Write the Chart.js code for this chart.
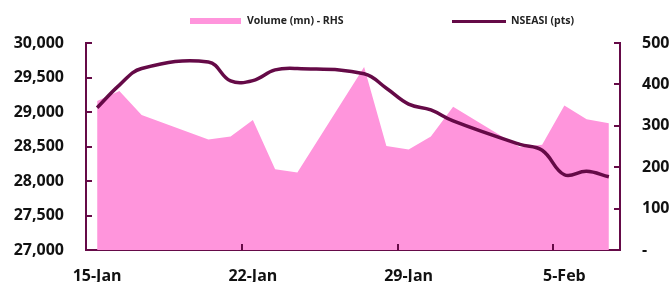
<!DOCTYPE html>
<html>
<head>
<meta charset="utf-8">
<script src="https://cdn.jsdelivr.net/npm/chart.js"></script>
<style>
  html, body { margin: 0; padding: 0; background: #fff; }
  #wrap { position: relative; width: 671px; height: 282px; }
  #legend { position: absolute; top: 12px; left: 0; width: 671px; height: 16px;
    font: bold 10.5px "Open Sans", sans-serif; color: #222; }
  .item { position: absolute; top: 0; line-height: 16px; white-space: nowrap; }
  .sw { position: absolute; }
</style>
</head>
<body>
<div id="wrap">
  <canvas id="c" width="671" height="282"></canvas>
  <div id="legend">
    <div class="sw" style="left:190px;top:6px;width:51px;height:6px;background:#ff95dc"></div>
    <div class="item" style="left:247px">Volume (mn) - RHS</div>
    <div class="sw" style="left:452px;top:8px;width:54px;height:3px;background:#650a47"></div>
    <div class="item" style="left:511px">NSEASI (pts)</div>
  </div>
</div>
<script>
// calendar days shown on the axis (weekends have no trading data)
const days = ['15-Jan','16-Jan','17-Jan','18-Jan','19-Jan','20-Jan','21-Jan','22-Jan','23-Jan','24-Jan',
  '25-Jan','26-Jan','27-Jan','28-Jan','29-Jan','30-Jan','31-Jan','1-Feb','2-Feb','3-Feb','4-Feb','5-Feb',
  '6-Feb','7-Feb']

const nseasi = [29062, 29390, 29630, null, null, 29725, 29450, 29455, 29610, 29630,
  null, null, 29555, 29345, 29115, 29030, 28870, null, null, 28530, 28445, 28090,
  28140, 28062]

const volume = [360, 384, 326, null, null, 267, 274, 314, 195, 187,
  null, null, 442, 251, 243, 274, 346, null, null, 248, 254, 349,
  316, 306]

const maroon = '#650a47'
const pink = '#ff95dc'
const tickFont = { family: '"Open Sans", sans-serif', size: 16, weight: 'bold' }

// Excel-style inward tick marks
const innerTicks = {
  id: 'innerTicks',
  afterDraw(chart) {
    const { ctx, chartArea: a, scales } = chart
    ctx.save()
    ctx.strokeStyle = maroon
    ctx.lineWidth = 2
    ctx.beginPath()
    scales.y.ticks.forEach(t => {
      const py = Math.round(scales.y.getPixelForValue(t.value))
      ctx.moveTo(a.left, py); ctx.lineTo(a.left + 6, py)
    })
    scales.y1.ticks.forEach(t => {
      const py = Math.round(scales.y1.getPixelForValue(t.value))
      ctx.moveTo(a.right, py); ctx.lineTo(a.right - 6, py)
    })
    const half = (scales.x.getPixelForValue(1) - scales.x.getPixelForValue(0)) / 2
    days.forEach((d, i) => {
      if (i % 7 !== 0) return
      const px = Math.round(scales.x.getPixelForValue(i) - half)
      ctx.moveTo(px, a.bottom); ctx.lineTo(px, a.bottom - 6)
    })
    ctx.stroke()
    ctx.restore()
  }
}

new Chart(document.getElementById('c'), {
  type: 'line',
  data: {
    labels: days,
    datasets: [
      {
        label: 'NSEASI (pts)',
        data: nseasi,
        yAxisID: 'y',
        borderColor: maroon,
        borderWidth: 3.5,
        pointRadius: 0,
        tension: 0.4,
        spanGaps: true,
        fill: false
      },
      {
        label: 'Volume (mn) - RHS',
        data: volume,
        yAxisID: 'y1',
        borderColor: pink,
        borderWidth: 0,
        backgroundColor: pink,
        pointRadius: 0,
        tension: 0,
        spanGaps: true,
        fill: 'origin'
      }
    ]
  },
  options: {
    responsive: false,
    animation: false,
    layout: { padding: { top: 43, left: 0, right: 0, bottom: 0 } },
    plugins: { legend: { display: false }, tooltip: { enabled: false } },
    scales: {
      x: {
        offset: true,
        grid: { display: false, offset: true },
        border: { display: true, color: maroon, width: 2 },
        ticks: {
          autoSkip: false, maxRotation: 0, color: '#111', font: tickFont, padding: 9,
          callback: (v, i) => (i % 7 === 0 ? days[i] : '')
        },
        afterFit: s => { s.height = 32 }
      },
      y: {
        position: 'left',
        min: 27000, max: 30000,
        grid: { display: false, drawTicks: false },
        border: { display: true, color: maroon, width: 2 },
        ticks: {
          stepSize: 500, color: '#111', font: tickFont, padding: 22,
          callback: v => v.toLocaleString('en-US')
        },
        afterFit: s => { s.width = 86 }
      },
      y1: {
        position: 'right',
        min: 0, max: 500,
        grid: { display: false, drawTicks: false },
        border: { display: true, color: maroon, width: 2 },
        ticks: {
          stepSize: 100, color: '#111', font: tickFont, padding: 22,
          callback: v => (v === 0 ? '-' : v)
        },
        afterFit: s => { s.width = 51 }
      }
    }
  },
  plugins: [innerTicks]
})
</script>
</body>
</html>
